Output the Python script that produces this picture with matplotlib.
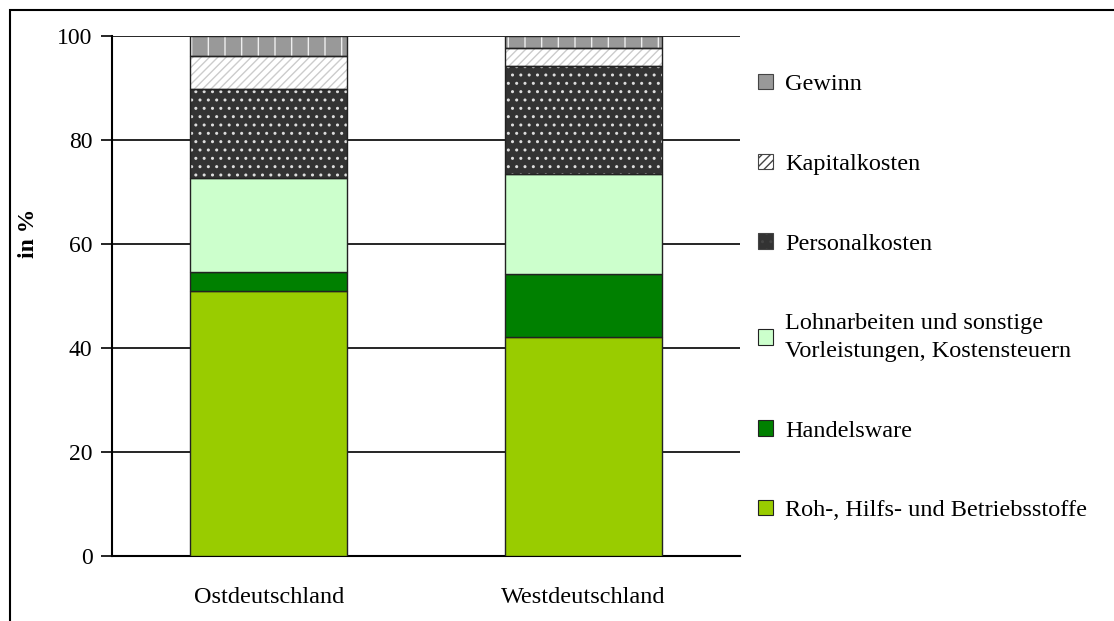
import matplotlib
matplotlib.use("Agg")
import matplotlib.pyplot as plt
from matplotlib.patches import Patch, Rectangle

regions = ["Ostdeutschland", "Westdeutschland"]
labels = ["Roh-, Hilfs- und Betriebsstoffe", "Handelsware",
          "Lohnarbeiten und sonstige\nVorleistungen, Kostensteuern",
          "Personalkosten", "Kapitalkosten", "Gewinn"]
roh = [51.0, 42.1]
handel = [3.6, 12.1]
lohn = [18.1, 19.3]
personal = [17.1, 20.7]
kapital = [6.4, 3.5]
gewinn = [3.8, 2.3]
series = [roh, handel, lohn, personal, kapital, gewinn]

colors = ["#99CC00", "#008000", "#CCFFCC", "#333333", "#FFFFFF", "#999999"]
hatches = [None, None, None, "..", "////", "|"]
hatch_cols = [None, None, None, "#DDDDDD", "#CCCCCC", "#EEEEEE"]

plt.rcParams["font.family"] = ["Liberation Serif", "DejaVu Serif"]
plt.rcParams["hatch.linewidth"] = 1.0

fig = plt.figure(figsize=(11.14, 6.21), dpi=100)
ax = fig.add_axes([0.1005, 0.1047, 0.5638, 0.8373])

x = list(range(len(regions)))
bottom = [0.0, 0.0]
handles = []
for vals, c, h, hc, lab in zip(series, colors, hatches, hatch_cols, labels):
    if h:
        ax.bar(x, vals, 0.5, bottom=bottom, color=c, edgecolor=hc,
               hatch=h, linewidth=0, zorder=3)
        ax.bar(x, vals, 0.5, bottom=bottom, fill=False, edgecolor="#222222",
               linewidth=1, zorder=4)
        handles.append(Patch(facecolor=c, edgecolor="#444444", hatch=h, linewidth=0.8))
    else:
        ax.bar(x, vals, 0.5, bottom=bottom, color=c, edgecolor="#222222",
               linewidth=1, zorder=3)
        handles.append(Patch(facecolor=c, edgecolor="#222222", linewidth=0.8))
    bottom = [b + v for b, v in zip(bottom, vals)]

ax.set_xlim(-0.5, 1.5)
ax.set_ylim(0, 100)
ax.set_yticks([0, 20, 40, 60, 80, 100])
ax.set_xticks(x)
ax.set_xticklabels(regions, fontsize=17.5)
ax.tick_params(axis="y", labelsize=17, length=8, width=1.2, direction="out", pad=6)
ax.tick_params(axis="x", length=0, pad=22)
ax.yaxis.grid(True, color="black", linewidth=1.2, zorder=0)
ax.set_axisbelow(True)
for s in ["top", "right"]:
    ax.spines[s].set_visible(False)
ax.spines["left"].set_linewidth(1.5)
ax.spines["bottom"].set_linewidth(1.5)
ax.set_ylabel("in %", fontsize=17, fontweight="bold")
ax.yaxis.set_label_coords(-0.116, 0.62)

leg = fig.legend(handles[::-1], labels[::-1], loc="upper left",
                 bbox_to_anchor=(0.661, 0.916), frameon=False, fontsize=17.5,
                 handlelength=0.6, handleheight=0.6, handletextpad=0.5,
                 labelspacing=2.4)
for t in leg.get_texts():
    t.set_linespacing(1.45)

fig.add_artist(Rectangle((0.009, -0.1), 1.2, 0.1 + 1 - 10 / 621, fill=False,
                         edgecolor="black", linewidth=1.5,
                         transform=fig.transFigure))

plt.savefig("out.png", dpi=100)
plt.close()
